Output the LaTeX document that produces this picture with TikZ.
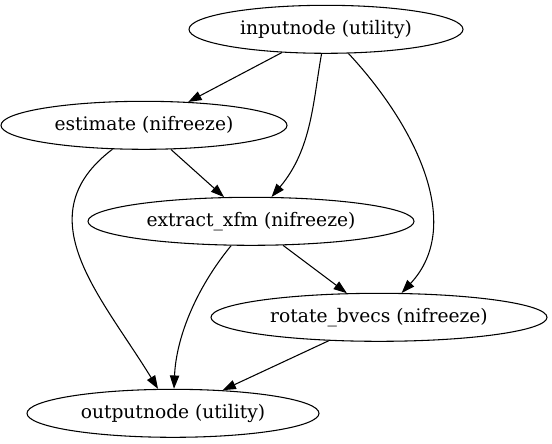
\documentclass[tikz,border=0pt]{standalone}
\usepackage{fontspec}
\setmainfont{DejaVu Serif}
\usetikzlibrary{shapes.geometric,arrows.meta}
\begin{document}
\begin{tikzpicture}[x=0.75pt,y=-0.75pt,
  gnode/.style={ellipse,draw,line width=0.8pt,inner sep=0pt,minimum height=36pt,
    font=\fontsize{14pt}{16pt}\selectfont},
  edge/.style={line width=0.8pt,-{Triangle[length=10pt,width=7pt]}}]
\useasboundingbox (0,0) rectangle (552,443);
\node[gnode,minimum width=205.5pt] (in)  at (326,29.3)  {inputnode (utility)};
\node[gnode,minimum width=214.5pt] (est) at (144,125.3) {estimate (nifreeze)};
\node[gnode,minimum width=244.5pt] (ex)  at (251,221.3) {extract\_xfm (nifreeze)};
\node[gnode,minimum width=252pt]   (rot) at (379,317.3) {rotate\_bvecs (nifreeze)};
\node[gnode,minimum width=219pt]   (out) at (173,413.3) {outputnode (utility)};
\draw[edge] (in) -- (est);
\draw[edge] (in) .. controls (313,101) and (312,149) .. (ex);
\draw[edge] (in) .. controls (415,125) and (465,225) .. (rot);
\draw[edge] (est) -- (ex);
\draw[edge] (est) .. controls (24.5,216) and (100.5,295) .. (out);
\draw[edge] (ex) .. controls (194,291) and (176,340) .. (out);
\draw[edge] (ex) -- (rot);
\draw[edge] (rot) -- (out);
\end{tikzpicture}
\end{document}
